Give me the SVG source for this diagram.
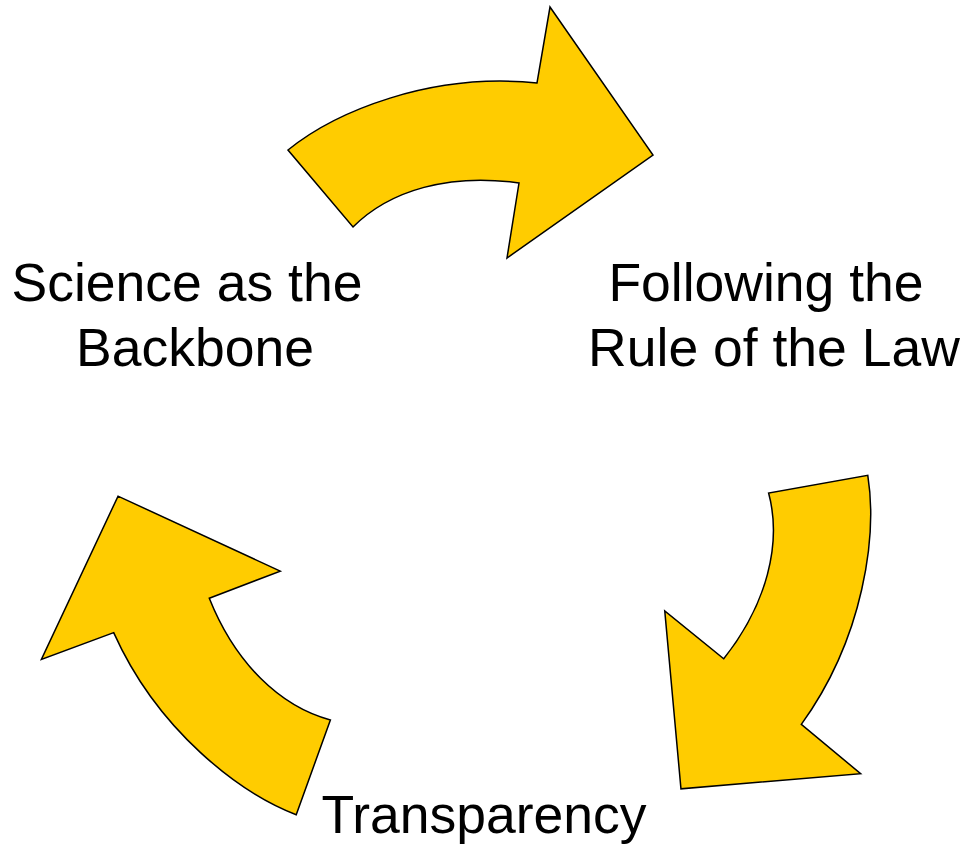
<svg xmlns="http://www.w3.org/2000/svg" width="961" height="844" viewBox="0 0 961 844">
<defs>
<style>
.arrow{fill:#FFCC00;stroke:#000;stroke-width:1.5;stroke-linejoin:miter}
.lbl{font-family:"Liberation Sans",Arial,sans-serif;font-size:53.5px;fill:#000;text-anchor:middle}
</style>
<path id="arr" d="M288,150 C335,112 430,72 537,83 L550,7 L653,155 L507,258 L519,183 C450,173 390,190 353,227 Z"/>
</defs>
<rect width="961" height="844" fill="#fff"/>
<g id="connectors">
<use id="arrow-top" href="#arr" class="arrow"/>
<use id="arrow-right" href="#arr" class="arrow" transform="rotate(120 484 480)"/>
<use id="arrow-left" href="#arr" class="arrow" transform="rotate(240 484 480)"/>
</g>
<g id="node-science">
<text class="lbl" x="187" y="301">Science as the</text>
<text class="lbl" x="195" y="366">Backbone</text>
</g>
<g id="node-law">
<text class="lbl" x="766" y="301">Following the</text>
<text class="lbl" x="774" y="366">Rule of the Law</text>
</g>
<g id="node-transparency">
<text class="lbl" x="484" y="833">Transparency</text>
</g>
</svg>
